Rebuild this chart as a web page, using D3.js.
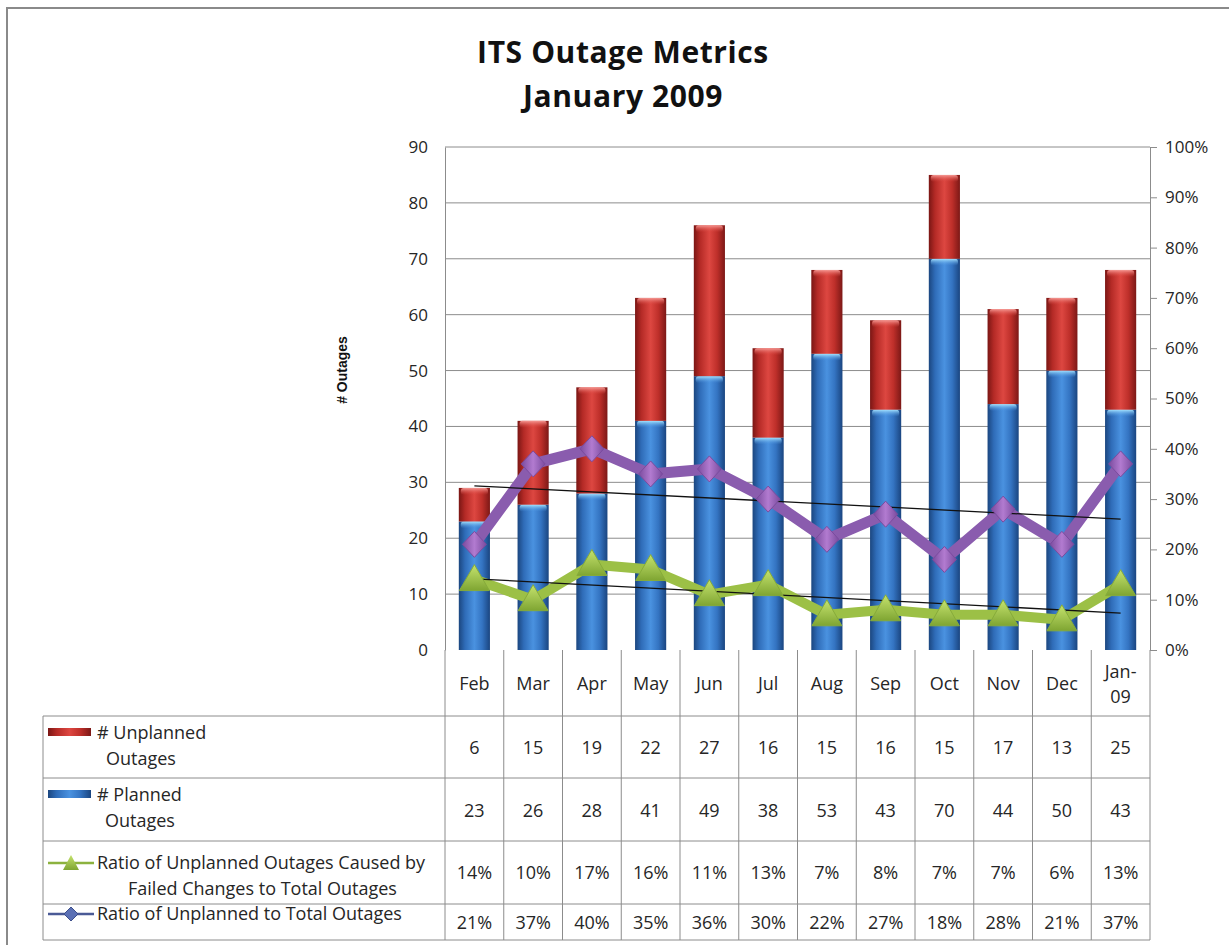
<!DOCTYPE html>
<html>
<head>
<meta charset="utf-8">
<script src="https://cdn.jsdelivr.net/npm/d3@7"></script>
<style>
  body { margin: 0; background: #fff; }
  svg text { font-family: "Open Sans", sans-serif; fill: #262626; }
</style>
</head>
<body>
<svg id="chart" width="1229" height="945"></svg>
<script>
const months = ["Feb", "Mar", "Apr", "May", "Jun", "Jul", "Aug", "Sep", "Oct", "Nov", "Dec", "Jan-09"];
const unplanned = [6, 15, 19, 22, 27, 16, 15, 16, 15, 17, 13, 25];
const planned = [23, 26, 28, 41, 49, 38, 53, 43, 70, 44, 50, 43];
const failedRatio = [0.14, 0.10, 0.17, 0.16, 0.11, 0.13, 0.07, 0.08, 0.07, 0.07, 0.06, 0.13];
const unplannedRatio = [0.21, 0.37, 0.40, 0.35, 0.36, 0.30, 0.22, 0.27, 0.18, 0.28, 0.21, 0.37];
const leftTicks = [0, 10, 20, 30, 40, 50, 60, 70, 80, 90];
const rightTicks = [0, 0.1, 0.2, 0.3, 0.4, 0.5, 0.6, 0.7, 0.8, 0.9, 1];

function drawChart() {
  const svg = d3.select("#chart");
  const L = 445, R = 1150, T = 147, B = 650;
  const rowEdges = [716, 778, 841, 904, 940];
  const tableLeft = 43;
  const lineColor = "#8c8c8c";

  const x = d3.scaleBand().domain(months).range([L, R]).paddingInner(0.47).paddingOuter(0.235);
  const y = d3.scaleLinear().domain([0, 90]).range([B, T]);
  const y2 = d3.scaleLinear().domain([0, 1]).range([B, T]);
  const cx = (m) => x(m) + x.bandwidth() / 2;

  // gradients
  const defs = svg.append("defs");
  function hGrad(id, stops) {
    const g = defs.append("linearGradient").attr("id", id).attr("x1", 0).attr("x2", 1).attr("y1", 0).attr("y2", 0);
    stops.forEach((s) => g.append("stop").attr("offset", s[0]).attr("stop-color", s[1]));
  }
  function vGrad(id, stops) {
    const g = defs.append("linearGradient").attr("id", id).attr("x1", 0).attr("x2", 0).attr("y1", 0).attr("y2", 1);
    stops.forEach((s) => g.append("stop").attr("offset", s[0]).attr("stop-color", s[1]).attr("stop-opacity", s[2] == null ? 1 : s[2]));
  }
  hGrad("blueBar", [[0, "#1b467f"], [0.2, "#2f6cb8"], [0.5, "#4a92e0"], [0.75, "#3474c2"], [1, "#1a4580"]]);
  hGrad("redBar", [[0, "#7a1614"], [0.2, "#b42a26"], [0.5, "#dd4741"], [0.75, "#be2f2a"], [1, "#7c1816"]]);
  vGrad("blueCap", [[0, "#a6e4ff", 1], [1, "#4a92e0", 0]]);
  vGrad("redCap", [[0, "#f59a95", 1], [1, "#dd4741", 0]]);
  hGrad("purpleMark", [[0, "#7a4b9e"], [0.5, "#b27bd0"], [1, "#7a4b9e"]]);
  vGrad("greenMark", [[0, "#c5e36e"], [1, "#7fa532"]]);

  // outer frame
  svg.append("rect")
    .attr("x", 7).attr("y", 8).attr("width", 1300).attr("height", 1000)
    .attr("fill", "none").attr("stroke", "#8a8a8a").attr("stroke-width", 2);

  // title
  ["ITS Outage Metrics", "January 2009"].forEach((t, i) => {
    svg.append("text").attr("x", 623).attr("y", 63 + i * 44).attr("text-anchor", "middle")
      .style("font-size", "30px").style("font-weight", "bold").style("fill", "#111")
      .style("letter-spacing", "0.6px")
      .text(t);
  });

  // gridlines
  svg.append("g").selectAll("line")
    .data(leftTicks.filter((t) => t > 0))
    .enter().append("line")
    .attr("x1", L).attr("x2", R)
    .attr("y1", (d) => y(d)).attr("y2", (d) => y(d))
    .attr("stroke", lineColor);

  // axes
  const leftAxis = svg.append("g").attr("transform", `translate(${L},0)`)
    .call(d3.axisLeft(y).tickValues(leftTicks).tickSize(0).tickPadding(17));
  leftAxis.select(".domain").attr("stroke", lineColor);
  leftAxis.selectAll("text").style("font-size", "17px").style("font-family", "'Open Sans', sans-serif").style("fill", "#262626");

  const rightAxis = svg.append("g").attr("transform", `translate(${R},0)`)
    .call(d3.axisRight(y2).tickValues(rightTicks).tickFormat(d3.format(".0%")).tickSize(7).tickPadding(8));
  rightAxis.select(".domain").attr("stroke", lineColor);
  rightAxis.selectAll(".tick line").attr("stroke", lineColor);
  rightAxis.selectAll("text").style("font-size", "17px").style("font-family", "'Open Sans', sans-serif").style("fill", "#262626");

  svg.append("text")
    .attr("transform", "translate(347,370) rotate(-90)")
    .attr("text-anchor", "middle")
    .style("font-family", "'Liberation Sans', Arial, sans-serif")
    .style("font-size", "14px").style("font-weight", "bold").style("fill", "#111")
    .text("# Outages");

  // stacked bars
  const rows = months.map((m, i) => ({ month: m, planned: planned[i], unplanned: unplanned[i] }));
  const stacked = d3.stack().keys(["planned", "unplanned"])(rows);
  const fills = { planned: ["url(#blueBar)", "url(#blueCap)"], unplanned: ["url(#redBar)", "url(#redCap)"] };

  const layers = svg.append("g").selectAll("g")
    .data(stacked)
    .enter().append("g");

  layers.selectAll("rect.bar")
    .data((s) => s.map((d) => ({ key: s.key, month: d.data.month, y0: d[0], y1: d[1] })))
    .enter().append("rect")
    .attr("class", "bar")
    .attr("x", (d) => x(d.month))
    .attr("width", x.bandwidth())
    .attr("y", (d) => y(d.y1))
    .attr("height", (d) => y(d.y0) - y(d.y1))
    .attr("fill", (d) => fills[d.key][0]);

  layers.selectAll("rect.cap")
    .data((s) => s.map((d) => ({ key: s.key, month: d.data.month, y1: d[1] })))
    .enter().append("rect")
    .attr("class", "cap")
    .attr("x", (d) => x(d.month) + 2)
    .attr("width", x.bandwidth() - 4)
    .attr("y", (d) => y(d.y1))
    .attr("height", 7)
    .attr("rx", 3)
    .attr("fill", (d) => fills[d.key][1]);

  // linear trend (least squares) of a ratio series
  function linReg(vals) {
    const n = vals.length;
    const mx = d3.mean(vals, (v, i) => i);
    const my = d3.mean(vals);
    const sxy = d3.sum(vals, (v, i) => (i - mx) * (v - my));
    const sxx = d3.sum(vals, (v, i) => (i - mx) * (i - mx));
    const b = sxy / sxx;
    return [my - b * mx, b, n];
  }

  // series lines
  const seriesLine = d3.line().x((d) => cx(d.month)).y((d) => y2(d.value));
  const purpleData = months.map((m, i) => ({ month: m, value: unplannedRatio[i] }));
  const greenData = months.map((m, i) => ({ month: m, value: failedRatio[i] }));

  svg.append("path").datum(purpleData)
    .attr("d", seriesLine).attr("fill", "none")
    .attr("stroke", "#8a5cae").attr("stroke-width", 11).attr("stroke-linejoin", "round");
  svg.append("path").datum(greenData)
    .attr("d", seriesLine).attr("fill", "none")
    .attr("stroke", "#9cc046").attr("stroke-width", 10).attr("stroke-linejoin", "round");

  [unplannedRatio, failedRatio].forEach((vals) => {
    const [a, b, n] = linReg(vals);
    svg.append("line")
      .attr("x1", cx(months[0])).attr("y1", y2(a))
      .attr("x2", cx(months[n - 1])).attr("y2", y2(a + b * (n - 1)))
      .attr("stroke", "#111").attr("stroke-width", 1.3);
  });

  svg.append("g").selectAll("path")
    .data(purpleData)
    .enter().append("path")
    .attr("transform", (d) => `translate(${cx(d.month)},${y2(d.value)})`)
    .attr("d", "M0,-13L12,0L0,13L-12,0Z")
    .attr("fill", "url(#purpleMark)").attr("stroke", "#7a4b9e").attr("stroke-width", 1);

  svg.append("g").selectAll("path")
    .data(greenData)
    .enter().append("path")
    .attr("transform", (d) => `translate(${cx(d.month)},${y2(d.value)})`)
    .attr("d", "M0,-15L15,11L-15,11Z")
    .attr("fill", "url(#greenMark)").attr("stroke", "#86ab3a").attr("stroke-width", 1);

  // data table
  const table = svg.append("g");
  d3.range(months.length + 1).forEach((i) => {
    table.append("line")
      .attr("x1", L + i * x.step()).attr("x2", L + i * x.step())
      .attr("y1", B).attr("y2", rowEdges[rowEdges.length - 1])
      .attr("stroke", lineColor);
  });
  rowEdges.forEach((ry) => {
    table.append("line").attr("x1", tableLeft).attr("x2", R).attr("y1", ry).attr("y2", ry).attr("stroke", lineColor);
  });
  table.append("line").attr("x1", tableLeft).attr("x2", tableLeft)
    .attr("y1", rowEdges[0]).attr("y2", rowEdges[rowEdges.length - 1]).attr("stroke", lineColor);

  // month labels
  months.forEach((m) => {
    const parts = m.includes("-") ? [m.slice(0, m.indexOf("-") + 1), m.slice(m.indexOf("-") + 1)] : [m];
    const t = table.append("text").attr("text-anchor", "middle").style("font-size", "18px");
    parts.forEach((p, j) => {
      t.append("tspan").attr("x", cx(m))
        .attr("y", parts.length === 1 ? 690 : 678 + j * 25)
        .text(p);
    });
  });

  const valueRows = [
    { vals: unplanned, fmt: d3.format("d"), y: 754 },
    { vals: planned, fmt: d3.format("d"), y: 817 },
    { vals: failedRatio, fmt: d3.format(".0%"), y: 879 },
    { vals: unplannedRatio, fmt: d3.format(".0%"), y: 929 },
  ];
  valueRows.forEach((r) => {
    table.selectAll(null)
      .data(r.vals)
      .enter().append("text")
      .attr("x", (d, i) => cx(months[i]))
      .attr("y", r.y)
      .attr("text-anchor", "middle")
      .style("font-size", "18px")
      .text((d) => r.fmt(d));
  });

  // legend keys inside the table
  table.append("rect").attr("x", 48).attr("y", 728).attr("width", 43).attr("height", 8).attr("fill", "url(#redBar)");
  table.append("rect").attr("x", 48).attr("y", 790).attr("width", 43).attr("height", 8).attr("fill", "url(#blueBar)");
  table.append("line").attr("x1", 48).attr("x2", 94).attr("y1", 863).attr("y2", 863).attr("stroke", "#8cb23e").attr("stroke-width", 2.5);
  table.append("path").attr("transform", "translate(71,864)").attr("d", "M0,-9L8,6L-8,6Z").attr("fill", "url(#greenMark)");
  table.append("line").attr("x1", 48).attr("x2", 94).attr("y1", 914).attr("y2", 914).attr("stroke", "#4a5a96").attr("stroke-width", 2.5);
  table.append("path").attr("transform", "translate(71,914)").attr("d", "M0,-7L7,0L0,7L-7,0Z").attr("fill", "#5b70b5").attr("stroke", "#3d4f8c");

  const legendText = [
    { t: "# Unplanned", x: 97, y: 739 },
    { t: "Outages", x: 106, y: 765 },
    { t: "# Planned", x: 97, y: 801 },
    { t: "Outages", x: 105, y: 827 },
    { t: "Ratio of Unplanned Outages Caused by", x: 97, y: 869 },
    { t: "Failed Changes to Total Outages", x: 128, y: 895 },
    { t: "Ratio of Unplanned to Total Outages", x: 97, y: 920 },
  ];
  table.selectAll(null)
    .data(legendText)
    .enter().append("text")
    .attr("x", (d) => d.x).attr("y", (d) => d.y)
    .style("font-size", "18px")
    .text((d) => d.t);
}

drawChart();
</script>
</body>
</html>
